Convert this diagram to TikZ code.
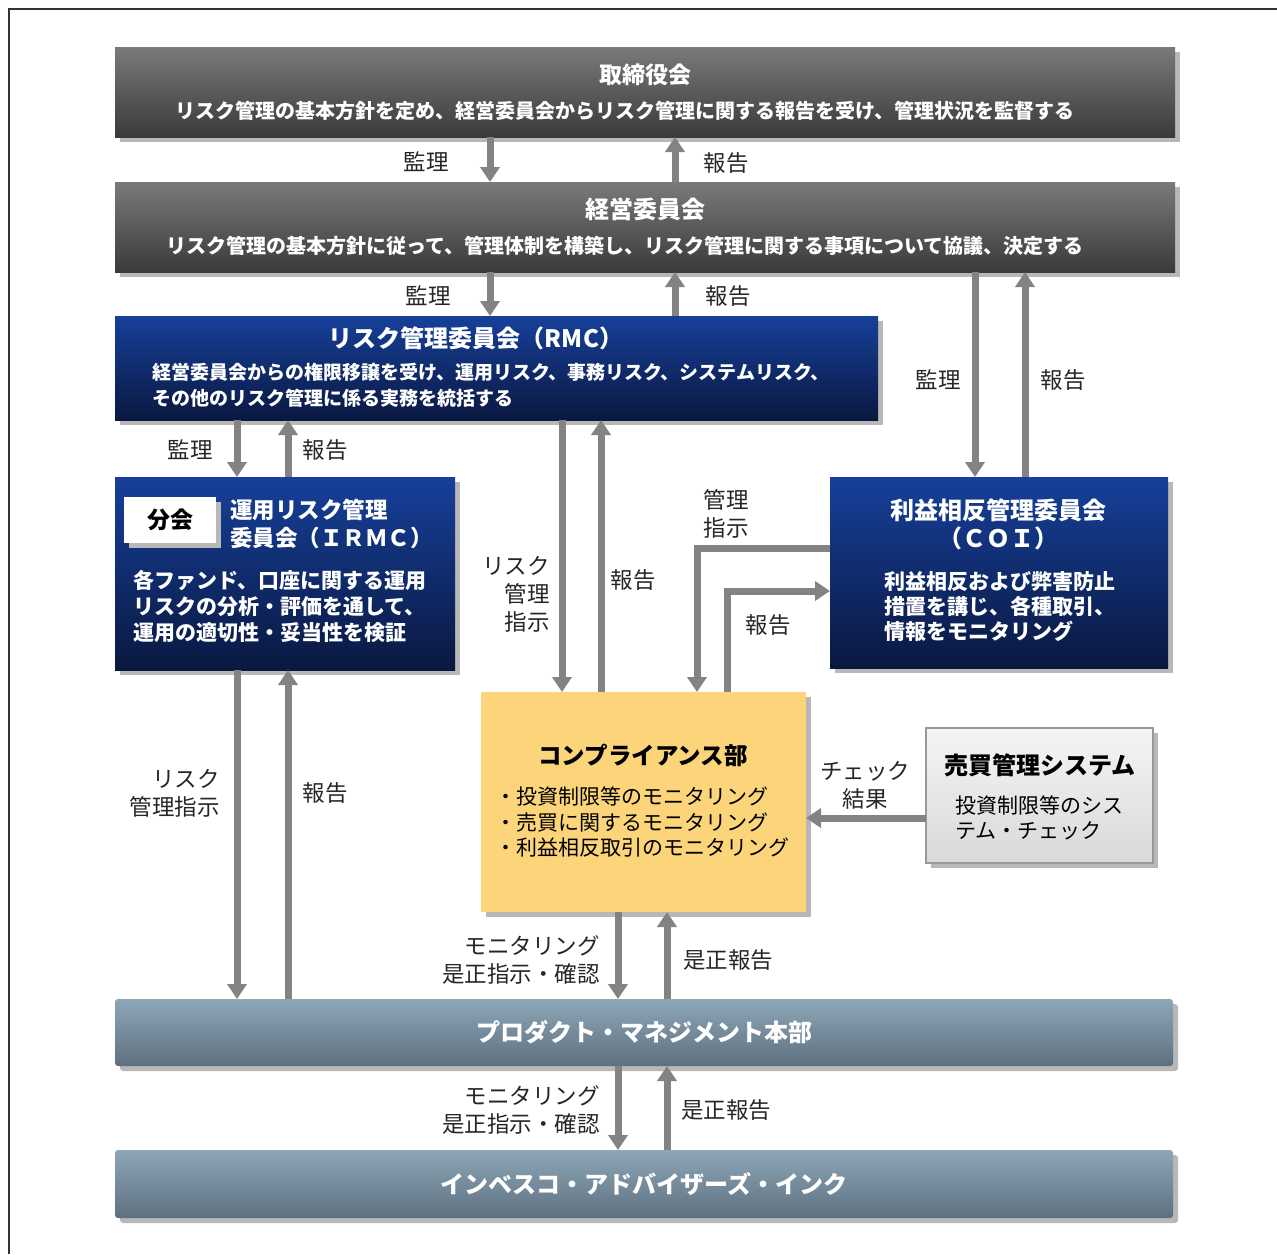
\documentclass[tikz,border=0pt]{standalone}
\usepackage{fontspec}
\setmainfont{Noto Sans CJK JP}
\usetikzlibrary{arrows.meta,shadows}

\definecolor{boardtop}{HTML}{7A7A7A}
\definecolor{boardbot}{HTML}{3A3A3A}
\definecolor{navytop}{HTML}{16409A}
\definecolor{navybot}{HTML}{0A1840}
\definecolor{comply}{HTML}{FCD57A}
\definecolor{pmtop}{HTML}{8DA7B8}
\definecolor{pmbot}{HTML}{5E7080}
\definecolor{arrowgray}{HTML}{838383}

\begin{document}
\begin{tikzpicture}[x=1pt,y=-1pt,
  box/.style={rectangle, anchor=north west, inner sep=0pt, outer sep=0pt,
    drop shadow={shadow xshift=5pt, shadow yshift=-5pt, fill=black!28, opacity=1}},
  greybox/.style={box, top color=boardtop, bottom color=boardbot, text=white,
    align=center, font=\fontsize{20}{35}\selectfont\bfseries},
  navybox/.style={box, top color=navytop, bottom color=navybot},
  pmbox/.style={box, rounded corners=3pt, top color=pmtop, bottom color=pmbot,
    text=white, font=\fontsize{24}{28}\selectfont\bfseries},
  wtext/.style={inner sep=0pt, text=white},
  lbl/.style={inner sep=0pt, text=black!85, font=\fontsize{22.5}{28}\selectfont},
  arr/.style={draw=arrowgray, line width=7pt, -{Triangle[length=15pt,width=19pt]}}
]
\useasboundingbox (0,0) rectangle (1277,1254);

% frame
\draw[line width=2.5pt, black!80] (9,1254) -- (9,9) -- (1277,9);

% boxes
\node[greybox, minimum width=1060pt, minimum height=90pt] (board) at (115,47)
  {{\fontsize{23}{35}\selectfont 取締役会}\\
   リスク管理の基本方針を定め、経営委員会からリスク管理に関する報告を受け、管理状況を監督する\hspace*{40pt}};
\node[greybox, minimum width=1060pt, minimum height=90pt] (exec) at (115,182)
  {{\fontsize{24}{35}\selectfont 経営委員会}\\
   リスク管理の基本方針に従って、管理体制を構築し、リスク管理に関する事項について協議、決定する\hspace*{40pt}};

\node[navybox, minimum width=763pt, minimum height=104pt] (rmc) at (115,316) {};
\node[wtext, font=\fontsize{24}{28}\selectfont\bfseries] (rmct) at (476,338) {リスク管理委員会（RMC）};
\node[wtext, anchor=west, align=left, font=\fontsize{19}{26}\selectfont\bfseries] (rmcb) at (152,385)
  {経営委員会からの権限移譲を受け、運用リスク、事務リスク、システムリスク、\\
   その他のリスク管理に係る実務を統括する};

\node[navybox, minimum width=340pt, minimum height=193pt] (irmc) at (115,477) {};
\node[box, fill=white, minimum width=92pt, minimum height=46pt,
  font=\fontsize{23}{28}\selectfont\bfseries] (bukai) at (124,497) {分会};
\node[wtext, anchor=west, align=left, font=\fontsize{22.5}{28}\selectfont\bfseries] (irmct) at (230,524)
  {運用リスク管理\\委員会（ＩＲＭＣ）};
\node[wtext, anchor=west, align=left, font=\fontsize{21}{26}\selectfont\bfseries] (irmcb) at (133,606)
  {各ファンド、口座に関する運用\\リスクの分析・評価を通して、\\運用の適切性・妥当性を検証};

\node[navybox, minimum width=338pt, minimum height=191pt] (coi) at (830,477) {};
\node[wtext, align=center, font=\fontsize{24}{28}\selectfont\bfseries] (coit) at (998,524)
  {利益相反管理委員会\\（ＣＯＩ）};
\node[wtext, anchor=west, align=left, font=\fontsize{21}{25}\selectfont\bfseries] (coib) at (884,607)
  {利益相反および弊害防止\\措置を講じ、各種取引、\\情報をモニタリング};

\node[box, fill=comply, minimum width=325pt, minimum height=220pt] (comp) at (481,692) {};
\node[inner sep=0pt, font=\fontsize{23.5}{28}\selectfont\bfseries] (compt) at (643,755) {コンプライアンス部};
\node[inner sep=0pt, anchor=west, align=left, font=\fontsize{21}{25.5}\selectfont] (compb) at (495,822)
  {・投資制限等のモニタリング\\・売買に関するモニタリング\\・利益相反取引のモニタリング};

\node[box, top color=white!96!black, bottom color=white!85!black, draw=black!40, line width=1.5pt,
  minimum width=227pt, minimum height=135pt] (trade) at (926,728) {};
\node[inner sep=0pt, font=\fontsize{24}{28}\selectfont\bfseries] (tradet) at (1040,765) {売買管理システム};
\node[inner sep=0pt, anchor=west, align=left, font=\fontsize{21}{25}\selectfont] (tradeb) at (955,818)
  {投資制限等のシス\\テム・チェック};

\node[pmbox, minimum width=1058pt, minimum height=67pt] (pm) at (115,999) {プロダクト・マネジメント本部};
\node[pmbox, minimum width=1058pt, minimum height=68pt] (inv) at (115,1150) {インベスコ・アドバイザーズ・インク};

% columns and rows for the connectors
\coordinate (cA) at (490,0);
\coordinate (cB) at (675,0);
\coordinate (cC) at (975,0);
\coordinate (cD) at (1025,0);
\coordinate (cE) at (237,0);
\coordinate (cF) at (288,0);
\coordinate (cG) at (562,0);
\coordinate (cH) at (601,0);
\coordinate (cI) at (618,0);
\coordinate (cJ) at (667,0);
\coordinate (cK) at (697,0);
\coordinate (cL) at (727,0);
\coordinate (rA) at (0,548);
\coordinate (rB) at (0,591);
\coordinate (rC) at (0,818);

% connectors
\draw[arr] (board.south -| cA) -- (exec.north -| cA);
\draw[arr] (exec.north -| cB) -- (board.south -| cB);
\draw[arr] (exec.south -| cA) -- (rmc.north -| cA);
\draw[arr] (rmc.north -| cB) -- (exec.south -| cB);
\draw[arr] (exec.south -| cC) -- (coi.north -| cC);
\draw[arr] (coi.north -| cD) -- (exec.south -| cD);
\draw[arr] (rmc.south -| cE) -- (irmc.north -| cE);
\draw[arr] (irmc.north -| cF) -- (rmc.south -| cF);
\draw[arr] (rmc.south -| cG) -- (comp.north -| cG);
\draw[arr] (comp.north -| cH) -- (rmc.south -| cH);
\draw[arr] (coi.west |- rA) -| (comp.north -| cK);
\draw[arr] (comp.north -| cL) |- (coi.west |- rB);
\draw[arr] (trade.west |- rC) -- (comp.east |- rC);
\draw[arr] (irmc.south -| cE) -- (pm.north -| cE);
\draw[arr] (pm.north -| cF) -- (irmc.south -| cF);
\draw[arr] (comp.south -| cI) -- (pm.north -| cI);
\draw[arr] (pm.north -| cJ) -- (comp.south -| cJ);
\draw[arr] (pm.south -| cI) -- (inv.north -| cI);
\draw[arr] (inv.north -| cJ) -- (pm.south -| cJ);

% labels
\node[lbl] (l1) at (426,162) {監理};
\node[lbl] (l2) at (726,163) {報告};
\node[lbl] (l3) at (428,296) {監理};
\node[lbl] (l4) at (728,296) {報告};
\node[lbl] (l5) at (938,380) {監理};
\node[lbl] (l6) at (1063,380) {報告};
\node[lbl] (l7) at (190,450) {監理};
\node[lbl] (l8) at (325,450) {報告};
\node[lbl, anchor=east, align=right] (l9) at (550,594) {リスク\\管理\\指示};
\node[lbl] (l10) at (633,580) {報告};
\node[lbl, align=center] (l11) at (726,514) {管理\\指示};
\node[lbl] (l12) at (768,625) {報告};
\node[lbl, align=center] (l13) at (865,785) {チェック\\結果};
\node[lbl, anchor=east, align=right] (l14) at (220,793) {リスク\\管理指示};
\node[lbl] (l15) at (325,793) {報告};
\node[lbl, anchor=east, align=right] (l16) at (600,960) {モニタリング\\是正指示・確認};
\node[lbl, anchor=west] (l17) at (683,960) {是正報告};
\node[lbl, anchor=east, align=right] (l18) at (600,1110) {モニタリング\\是正指示・確認};
\node[lbl, anchor=west] (l19) at (681,1110) {是正報告};
\end{tikzpicture}
\end{document}
